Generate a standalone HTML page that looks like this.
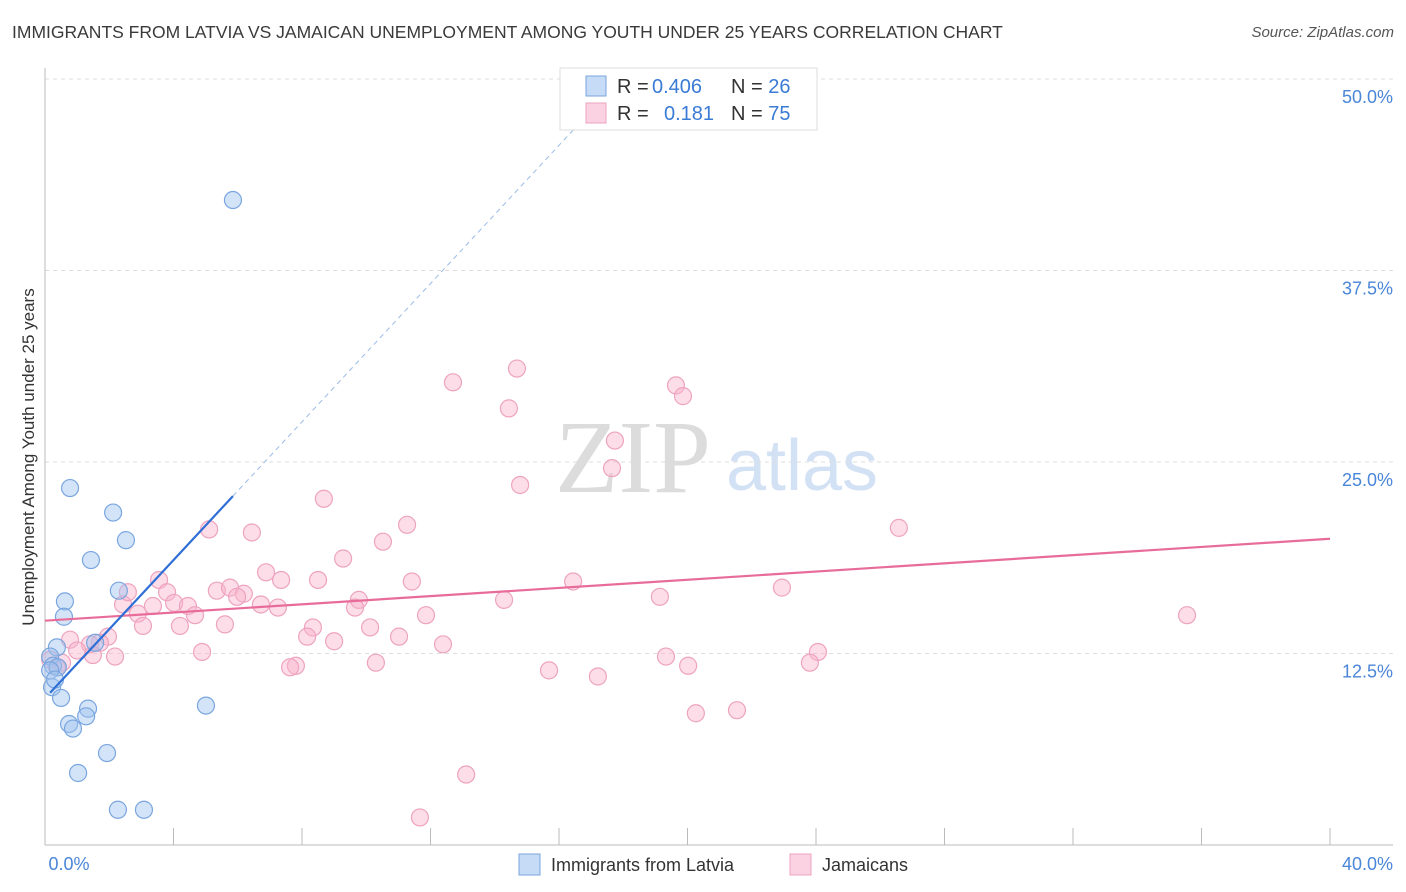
<!DOCTYPE html>
<html><head><meta charset="utf-8">
<style>
body{margin:0;background:#fff;font-family:"Liberation Sans",sans-serif;}
#wrap{position:relative;width:1406px;height:892px;overflow:hidden;}
.title{position:absolute;left:12px;top:22px;font-size:17.5px;color:#3a3a3a;}
.source{position:absolute;right:12px;top:24px;font-size:15px;color:#555;font-style:italic;}
</style></head><body>
<div id="wrap">
<div class="title">IMMIGRANTS FROM LATVIA VS JAMAICAN UNEMPLOYMENT AMONG YOUTH UNDER 25 YEARS CORRELATION CHART</div>
<div class="source">Source: ZipAtlas.com</div>
<svg id="svg" width="1406" height="892" style="position:absolute;left:0;top:0"></svg>
</div>
<script>
const blueX=[5.85,0.78,2.12,2.52,1.43,2.30,0.62,0.59,1.56,0.37,0.16,0.25,0.40,0.22,0.50,1.34,1.28,0.75,0.87,5.01,1.93,1.03,2.27,3.08,0.16,0.31];
const blueY=[42.1,23.3,21.7,19.9,18.6,16.6,15.9,14.9,13.2,12.9,12.3,11.7,11.6,10.3,9.6,8.9,8.4,7.9,7.6,9.1,6.0,4.7,2.3,2.3,11.4,10.8];
const pinkX=[14.69,12.70,19.64,19.86,14.44,17.74,17.65,14.79,8.68,11.27,5.11,6.44,26.58,10.52,9.28,6.88,3.55,7.35,8.50,11.42,16.44,22.94,3.80,5.35,5.76,6.19,5.98,4.02,4.45,2.43,3.36,6.72,7.25,9.77,9.65,14.29,19.14,2.89,4.67,11.86,35.55,3.05,4.20,5.60,8.34,10.12,1.96,0.78,1.71,8.16,9.00,11.02,12.39,1.40,1.00,4.89,2.18,1.49,24.06,19.33,0.53,0.37,10.30,7.81,7.63,20.02,23.81,15.69,17.21,21.54,20.26,13.11,11.67,2.58,0.16];
const pinkY=[31.1,30.2,30.0,29.3,28.5,26.4,24.6,23.5,22.6,20.9,20.6,20.4,20.7,19.8,18.7,17.8,17.3,17.3,17.3,17.2,17.2,16.8,16.5,16.6,16.8,16.4,16.2,15.8,15.6,15.7,15.6,15.7,15.5,16.0,15.5,16.0,16.2,15.1,15.0,15.0,15.0,14.3,14.3,14.4,14.2,14.2,13.6,13.4,13.2,13.6,13.3,13.6,13.1,13.1,12.7,12.6,12.3,12.4,12.6,12.3,11.9,11.6,11.9,11.7,11.6,11.7,11.9,11.4,11.0,8.8,8.6,4.6,1.8,16.5,12.1];
const yTicks=[12.5,25.0,37.5,50.0];
const xTickLabels=["0.0%","40.0%"];

const NS="http://www.w3.org/2000/svg";
const svg=document.getElementById('svg');
const X0=45,X1=1330,Y0=845,Y50=79;
const sx=v=>X0+(v/40)*(X1-X0);
const sy=v=>Y0-(v/50)*(Y0-Y50);
function el(tag,attrs,parent){const e=document.createElementNS(NS,tag);for(const k in attrs)e.setAttribute(k,attrs[k]);(parent||svg).appendChild(e);return e;}

let wm=el('text',{x:633,y:492,'font-size':104,'font-family':'Liberation Serif,serif',fill:'#dcdcdc','text-anchor':'middle'});


wm.textContent='ZIP';
let wm2=el('text',{x:802,y:490,'font-size':72,'font-family':'Liberation Sans,sans-serif',fill:'#d3e1f5','text-anchor':'middle'});


wm2.textContent='atlas';

yTicks.forEach(t=>{
  const g=el('line',{x1:X0,x2:1393,y1:sy(t),y2:sy(t),stroke:'#dddddd','stroke-dasharray':'4,4'});
  
  
  const tx=el('text',{x:1393,y:sy(t)+24,'font-size':18,fill:'#4a86d8','text-anchor':'end'});
  
  
  tx.textContent=t.toFixed(1)+'%';
});
let ya=el('line',{x1:X0,x2:X0,y1:68,y2:Y0,stroke:'#bbb'});


let xa=el('line',{x1:X0,x2:1393,y1:Y0,y2:Y0,stroke:'#bbb'});


for(let i=1;i<=10;i++){
  const t=el('line',{x1:sx(i*4),x2:sx(i*4),y1:828,y2:Y0,stroke:'#bbb'});
  
  
}
[[X0+24,'middle'],[1393,'end']].forEach((p,i)=>{
  const t=el('text',{x:p[0],y:870,'font-size':18,fill:'#4a86d8','text-anchor':p[1]});
  
  
  t.textContent=xTickLabels[i];
});
let yt=el('text',{x:0,y:0,'font-size':17,fill:'#333','text-anchor':'middle',transform:'translate(34,457) rotate(-90)'});


yt.textContent='Unemployment Among Youth under 25 years';

function fit(xs,ys){const n=xs.length;let mx=0,my=0;for(let i=0;i<n;i++){mx+=xs[i];my+=ys[i];}mx/=n;my/=n;let a=0,b=0;for(let i=0;i<n;i++){a+=(xs[i]-mx)*(ys[i]-my);b+=(xs[i]-mx)**2;}const s=a/b;return [s,my-s*mx];}

function pts(xs,ys,fill,stroke,name){
  xs.forEach((x,i)=>{
    const c=el('circle',{cx:sx(x),cy:sy(ys[i]),r:8.5,fill:fill,stroke:stroke,'stroke-width':1.2});
    
    
  });
}
pts(pinkX,pinkY,'rgba(248,180,205,0.45)','#eea3bf','jamaicans-point');
pts(blueX,blueY,'rgba(160,195,240,0.45)','#7aa6df','latvia-point');

const [ps,pi]=fit(pinkX,pinkY);
let pl=el('line',{x1:sx(0),y1:sy(pi),x2:sx(40),y2:sy(pi+ps*40),stroke:'#e86c9a','stroke-width':2.2});


const [bs,bi]=fit(blueX,blueY);
const bmax=Math.max(...blueX);
const bmin=Math.min(...blueX);
let bl=el('line',{x1:sx(bmin),y1:sy(bi+bs*bmin),x2:sx(bmax),y2:sy(bi+bs*bmax),stroke:'#2f6fd6','stroke-width':2.2});


const xTop=(50-bi)/bs;
let bd=el('line',{x1:sx(bmax),y1:sy(bi+bs*bmax),x2:sx(xTop),y2:sy(50),stroke:'#9bbbe6','stroke-width':1,'stroke-dasharray':'5,4'});



let lg=el('rect',{x:560,y:68,width:257,height:62,fill:'#fff',stroke:'#ddd'});


[[86,'rgba(160,195,240,0.6)','#7aa6df','0.406','26','legend-entry-latvia'],[113,'rgba(248,180,205,0.6)','#eea3bf','0.181','75','legend-entry-jamaicans']].forEach(r=>{
  const g=el('g',{});
  
  
  el('rect',{x:586,y:r[0]-10,width:20,height:20,fill:r[1],stroke:r[2]},g);
  const t=el('text',{x:617,y:r[0]+7,'font-size':20,fill:'#333'},g);
  t.innerHTML='R = <tspan fill="#3a7bd5" x="'+(r[3]==='0.406'?652:664)+'">'+r[3]+'</tspan><tspan x="731">N = </tspan><tspan fill="#3a7bd5">'+r[4]+'</tspan>';
});

[[519,'rgba(160,195,240,0.6)','#7aa6df','Immigrants from Latvia','bottom-legend-latvia'],[790,'rgba(248,180,205,0.6)','#eea3bf','Jamaicans','bottom-legend-jamaicans']].forEach(r=>{
  const g=el('g',{});
  
  
  el('rect',{x:r[0],y:854,width:21,height:21,fill:r[1],stroke:r[2]},g);
  const t=el('text',{x:r[0]+32,y:871,'font-size':18,fill:'#333'},g);
  t.textContent=r[3];
});
</script>
</body></html>
